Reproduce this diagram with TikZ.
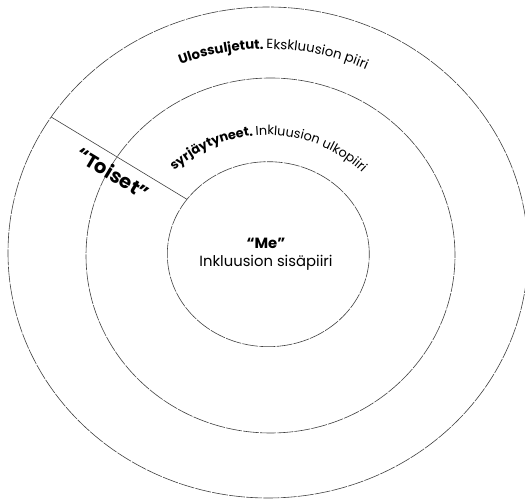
\documentclass[tikz,border=0pt]{standalone}
\usepackage{fontspec}
\setmainfont{Poppins}
\usetikzlibrary{shapes.geometric, decorations.text}
\newcommand{\arcfont}[1]{\fontsize{#1}{#1}\selectfont}

\begin{document}
\begin{tikzpicture}[
  x=1pt, y=1pt,
  ring/.style={ellipse, draw=black!75, line width=0.6pt, dash pattern=on 16pt off 1.2pt, inner sep=0pt, outer sep=0pt},
  spoke/.style={draw=black!75, line width=0.6pt},
  arclabel/.style={decorate, decoration={text along path, text align=center, #1}}
]
\useasboundingbox (0,0) rectangle (525,500);

\node[ring, minimum width=520pt, minimum height=491pt] (outer) at (268,247.5) {};
\node[ring, minimum width=369pt, minimum height=355pt] (middle) at (270.5,244.5) {};
\node[ring, minimum width=202pt, minimum height=185pt] (inner) at (268.3,245.8) {};

\draw[spoke] (outer.148) -- (inner.146);

\path[arclabel={text={|\arcfont{13.3}\bfseries|Ulossuljetut. |\arcfont{13.3}|Ekskluusion piiri}}]
  (267,200) ++(130:251) arc[start angle=130, end angle=47, radius=251];
\path[arclabel={text={|\arcfont{12.8}\bfseries|syrjäytyneet. |\arcfont{12.8}|Inkluusion ulkopiiri}}]
  (267,227) ++(160:138) arc[start angle=160, end angle=18.6, radius=138];

\node[rotate=-31, font=\fontsize{19.5}{22}\selectfont\bfseries] (toiset) at (113,327) {“Toiset”};
\node[align=center, font=\fontsize{14.8}{18}\selectfont] (me) at (266,246) {{\bfseries “Me”}\\Inkluusion sisäpiiri};
\end{tikzpicture}
\end{document}
